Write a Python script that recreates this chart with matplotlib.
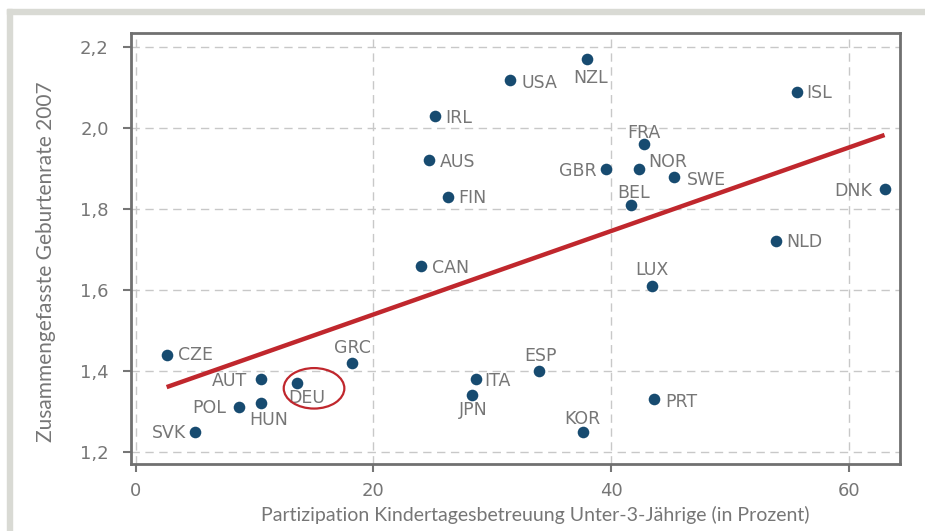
import numpy as np
import matplotlib
matplotlib.use('Agg')
import matplotlib.pyplot as plt
from matplotlib.patches import Ellipse, Rectangle

# Daten: Kinderbetreuungsquote (x) und Geburtenrate (y)
laender = ['CZE', 'SVK', 'POL', 'AUT', 'HUN', 'DEU', 'GRC', 'CAN', 'AUS', 'IRL',
           'FIN', 'USA', 'NZL', 'ITA', 'JPN', 'ESP', 'KOR', 'GBR', 'BEL', 'FRA',
           'NOR', 'SWE', 'LUX', 'PRT', 'NLD', 'ISL', 'DNK']
betreuung = [2.6, 5.0, 8.7, 10.5, 10.5, 13.6, 18.2, 24.0, 24.7, 25.2,
             26.3, 31.5, 38.0, 28.6, 28.3, 33.9, 37.6, 39.6, 41.7, 42.8,
             42.3, 45.3, 43.4, 43.6, 53.9, 55.6, 63.0]
geburtenrate = [1.44, 1.25, 1.31, 1.38, 1.32, 1.37, 1.42, 1.66, 1.92, 2.03,
                1.83, 2.12, 2.17, 1.38, 1.34, 1.40, 1.25, 1.90, 1.81, 1.96,
                1.90, 1.88, 1.61, 1.33, 1.72, 2.09, 1.85]

# Trendlinie
trend_y = [1.36, 1.983]

# Label-Positionen (Versatz in Pixel, Ausrichtung)
label_pos = {
    'CZE': (11, 0, 'left'), 'SVK': (-9, -1, 'right'), 'POL': (-13, -1, 'right'),
    'AUT': (-13, -2, 'right'), 'HUN': (8, -17, 'center'), 'DEU': (9, -15, 'center'),
    'GRC': (0, 15, 'center'), 'CAN': (11, -2, 'left'), 'AUS': (11, -2, 'left'),
    'IRL': (10, -2, 'left'), 'FIN': (10, -1, 'left'), 'USA': (11, -3, 'left'),
    'NZL': (3, -19, 'center'), 'ITA': (9, -2, 'left'), 'JPN': (1, -15, 'center'),
    'ESP': (2, 15, 'center'), 'KOR': (0, 13, 'center'), 'GBR': (-10, -2, 'right'),
    'BEL': (2, 12, 'center'), 'FRA': (-1, 11, 'center'), 'NOR': (10, 7, 'left'),
    'SWE': (13, -3, 'left'), 'LUX': (0, 16, 'center'), 'PRT': (11, -3, 'left'),
    'NLD': (10, -1, 'left'), 'ISL': (10, -1, 'left'), 'DNK': (-12, -2, 'right'),
}

grau = '#767676'
narrow = ['Liberation Sans Narrow', 'DejaVu Sans']

fig = plt.figure(figsize=(9.25, 5.31), dpi=100)
fig.patches.append(Rectangle((7 / 925, 1 - 14 / 531), 1, 5 / 531, transform=fig.transFigure,
                             color='#d9dad4', zorder=0))
fig.patches.append(Rectangle((7 / 925, 0), 5 / 925, 1 - 9 / 531, transform=fig.transFigure,
                             color='#d9dad4', zorder=0))

ax = fig.add_axes([131 / 925, 1 - 464 / 531, 769 / 925, 431 / 531])
ax.set_xlim(-0.4, 64.3)
ax.set_ylim(1.170, 2.235)

ax.grid(True, color='#c8c8c8', linestyle=(0, (6, 4)), linewidth=1.0)
ax.set_axisbelow(True)

ax.scatter(betreuung, geburtenrate, s=70, color='#174b70', zorder=3, linewidths=0)

xs = [min(betreuung), max(betreuung)]
ax.plot(xs, trend_y, color='#c0272d', linewidth=3.2, solid_capstyle='butt', zorder=2)

for land, x, y in zip(laender, betreuung, geburtenrate):
    dx, dy, ha = label_pos[land]
    ax.annotate(land, (x, y), xytext=(dx, dy), textcoords='offset pixels',
                ha=ha, va='center', fontsize=12.5, color=grau, family=narrow)

# Kreis um Deutschland
ax.add_patch(Ellipse((15.0, 1.357), 5.1, 0.1, fill=False, edgecolor='#c0272d',
                     linewidth=1.6, zorder=4))

ax.set_xticks([0, 20, 40, 60])
ax.set_yticks([1.2, 1.4, 1.6, 1.8, 2.0, 2.2])
ax.set_yticklabels(['1,2', '1,4', '1,6', '1,8', '2,0', '2,2'])
for lbl in ax.get_xticklabels() + ax.get_yticklabels():
    lbl.set_family(narrow)
    lbl.set_fontsize(13)
    lbl.set_color(grau)
ax.tick_params(direction='out', length=6, width=1.5, color=grau)
ax.tick_params(axis='y', pad=10)
ax.tick_params(axis='x', pad=7)

for sp in ax.spines.values():
    sp.set_color('#707070')
    sp.set_linewidth(2.0)

ax.set_xlabel('Partizipation Kindertagesbetreuung Unter-3-Jährige (in Prozent)',
              fontsize=14, color=grau, family='Lato')
ax.set_ylabel('Zusammengefasste Geburtenrate 2007', fontsize=15, color=grau,
              family='Lato')
ax.xaxis.set_label_coords(0.526, -0.097)
ax.yaxis.set_label_coords(-0.097, 0.47)

fig.savefig('out.png', dpi=100)
